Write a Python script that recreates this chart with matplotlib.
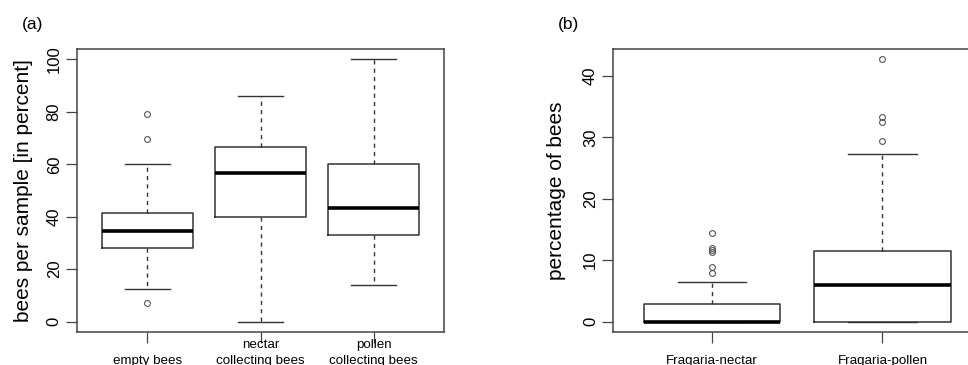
import matplotlib
matplotlib.use("Agg")
import matplotlib.pyplot as plt

plt.rcParams["font.family"] = ["Liberation Sans", "DejaVu Sans"]

# panel (a): bees per sample
a_labels = ["empty bees", "nectar\ncollecting bees", "pollen\ncollecting bees"]
a_whislo = [12.6, 0.0, 14.0]
a_q1 = [28.2, 40.0, 33.2]
a_med = [34.7, 56.6, 43.2]
a_q3 = [41.3, 66.6, 60.0]
a_whishi = [60.0, 86.2, 100.0]
a_fliers = [[79.2, 69.6, 7.0], [], []]

# panel (b): Fragaria foragers
b_labels = ["Fragaria-nectar", "Fragaria-pollen"]
b_whislo = [0.0, 0.0]
b_q1 = [0.0, 0.0]
b_med = [0.0, 5.95]
b_q3 = [2.8, 11.5]
b_whishi = [6.4, 27.3]
b_fliers = [[14.5, 12.0, 11.7, 11.4, 8.8, 7.9], [42.7, 33.3, 32.5, 29.4]]

EDGE = "#333333"


def stats(labels, lo, q1, med, q3, hi, fl):
    return [dict(label=l, whislo=a, q1=b, med=c, q3=d, whishi=e, fliers=f)
            for l, a, b, c, d, e, f in zip(labels, lo, q1, med, q3, hi, fl)]


def draw(ax, st):
    ax.bxp(st, widths=0.8, showfliers=True,
           boxprops=dict(color=EDGE, lw=1.1),
           medianprops=dict(color="black", lw=2.6, solid_capstyle="butt"),
           whiskerprops=dict(color=EDGE, lw=1.0, ls=(0, (3, 3))),
           capprops=dict(color=EDGE, lw=1.0),
           flierprops=dict(marker="o", ms=4.2, mfc="none", mec="#555555", mew=0.8))
    for s in ax.spines.values():
        s.set_color("#444444")
        s.set_linewidth(1.1)
    ax.tick_params(axis="y", length=8, width=0.9, color="#444444", labelsize=12, pad=3)
    # x labels sit bottom-aligned just under the ticks, as in R
    ax.tick_params(axis="x", length=8, width=0.9, color="#444444", labelsize=9.6, pad=17)
    for t in ax.get_yticklabels():
        t.set_rotation(90)
        t.set_va("center")
    for t in ax.get_xticklabels():
        t.set_va("bottom")
        t.set_linespacing(1.4)


fig = plt.figure(figsize=(9.68, 3.65), dpi=100)

ax1 = fig.add_axes([77 / 968, 33 / 365, 367 / 968, 283 / 365])
draw(ax1, stats(a_labels, a_whislo, a_q1, a_med, a_q3, a_whishi, a_fliers))
ax1.set_xlim(0.38, 3.62)
ax1.set_ylim(-4, 104)
ax1.set_yticks([0, 20, 40, 60, 80, 100])
ax1.set_ylabel("bees per sample [in percent]", fontsize=15, labelpad=10)
fig.text(22 / 968, 1 - 24 / 365, "(a)", fontsize=12.5, ha="left", va="center")

ax2 = fig.add_axes([613.3 / 968, 33 / 365, 368 / 968, 283 / 365])
draw(ax2, stats(b_labels, b_whislo, b_q1, b_med, b_q3, b_whishi, b_fliers))
ax2.set_xlim(0.42, 2.58)
ax2.set_ylim(-1.71, 44.4)
ax2.set_yticks([0, 10, 20, 30, 40])
ax2.set_ylabel("percentage of bees", fontsize=15, labelpad=12)
fig.text(558 / 968, 1 - 24 / 365, "(b)", fontsize=12.5, ha="left", va="center")

fig.savefig("out.png", dpi=100)
